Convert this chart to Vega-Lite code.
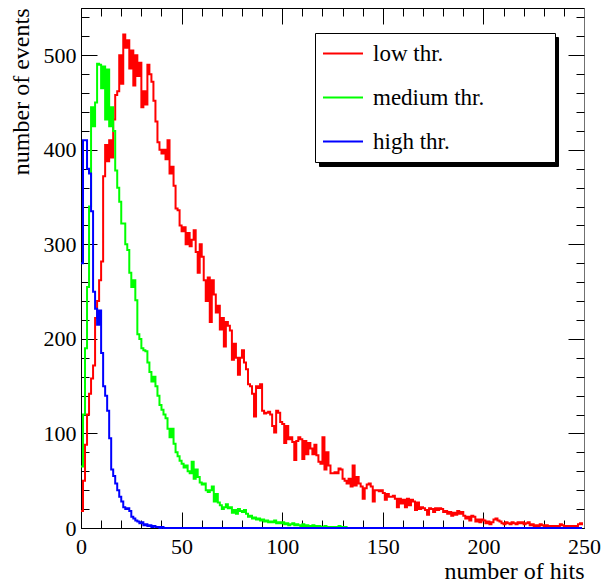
{
 "$schema": "https://vega.github.io/schema/vega-lite/v6.json",
 "width": 503,
 "height": 520,
 "autosize": {"type": "none"},
 "padding": {"left": 81, "top": 8, "right": 20, "bottom": 54},
 "background": "white",
 "config": {
  "view": {"stroke": null},
  "font": "Liberation Serif",
  "axis": {"domainColor": "black", "tickColor": "black", "labelColor": "black", "titleColor": "black", "labelFont": "Liberation Serif", "titleFont": "Liberation Serif", "labelFontSize": 22, "titleFontSize": 24, "titleFontWeight": "normal", "grid": false, "zindex": 0, "tickWidth": 1, "domainWidth": 1, "labelFlush": false, "labelOverlap": false}
 },
 "data": {"values": [
{"h":0,"low":18,"medium":65,"high":280},{"h":1,"low":50,"medium":120,"high":410},{"h":2,"low":88,"medium":190,"high":410},{"h":3,"low":120,"medium":255,"high":380},{"h":4,"low":142,"medium":340,"high":375},{"h":5,"low":158,"medium":445,"high":335},{"h":6,"low":172,"medium":425,"high":250},{"h":7,"low":222,"medium":450,"high":232},{"h":8,"low":240,"medium":491,"high":215},{"h":9,"low":262,"medium":490,"high":230},
{"h":10,"low":282,"medium":465,"high":185},{"h":11,"low":372,"medium":488,"high":150},{"h":12,"low":405,"medium":432,"high":140},{"h":13,"low":388,"medium":485,"high":124},{"h":14,"low":410,"medium":425,"high":95},{"h":15,"low":392,"medium":445,"high":62},{"h":16,"low":432,"medium":420,"high":55},{"h":17,"low":458,"medium":378,"high":47},{"h":18,"low":462,"medium":360,"high":40},{"h":19,"low":500,"medium":345,"high":33},
{"h":20,"low":470,"medium":322,"high":28},{"h":21,"low":522,"medium":322,"high":22},{"h":22,"low":508,"medium":300,"high":20},{"h":23,"low":516,"medium":294,"high":21},{"h":24,"low":486,"medium":270,"high":18},{"h":25,"low":505,"medium":255,"high":12},{"h":26,"low":468,"medium":262,"high":10},{"h":27,"low":500,"medium":241,"high":8},{"h":28,"low":478,"medium":205,"high":7},{"h":29,"low":492,"medium":200,"high":5},
{"h":30,"low":445,"medium":190,"high":6},{"h":31,"low":462,"medium":188,"high":3},{"h":32,"low":448,"medium":187,"high":4},{"h":33,"low":490,"medium":175,"high":2},{"h":34,"low":480,"medium":165,"high":3},{"h":35,"low":472,"medium":155,"high":1},{"h":36,"low":452,"medium":160,"high":2},{"h":37,"low":430,"medium":150,"high":1},{"h":38,"low":408,"medium":140,"high":1},{"h":39,"low":400,"medium":130,"high":0},
{"h":40,"low":396,"medium":125,"high":1},{"h":41,"low":400,"medium":120,"high":0},{"h":42,"low":390,"medium":116,"high":0},{"h":43,"low":410,"medium":105,"high":0},{"h":44,"low":375,"medium":96,"high":0},{"h":45,"low":382,"medium":105,"high":0},{"h":46,"low":362,"medium":89,"high":0},{"h":47,"low":338,"medium":80,"high":0},{"h":48,"low":336,"medium":76,"high":0},{"h":49,"low":320,"medium":71,"high":0},
{"h":50,"low":314,"medium":68,"high":0},{"h":51,"low":318,"medium":64,"high":0},{"h":52,"low":300,"medium":66,"high":0},{"h":53,"low":312,"medium":60,"high":0},{"h":54,"low":298,"medium":58,"high":0},{"h":55,"low":305,"medium":70,"high":0},{"h":56,"low":315,"medium":52,"high":0},{"h":57,"low":292,"medium":62,"high":0},{"h":58,"low":270,"medium":54,"high":0},{"h":59,"low":300,"medium":48,"high":0},
{"h":60,"low":287,"medium":46,"high":0},{"h":61,"low":262,"medium":47,"high":0},{"h":62,"low":240,"medium":40,"high":0},{"h":63,"low":265,"medium":38,"high":0},{"h":64,"low":218,"medium":40,"high":0},{"h":65,"low":262,"medium":44,"high":0},{"h":66,"low":247,"medium":28,"high":0},{"h":67,"low":228,"medium":36,"high":0},{"h":68,"low":235,"medium":27,"high":0},{"h":69,"low":210,"medium":24,"high":0},
{"h":70,"low":222,"medium":20,"high":0},{"h":71,"low":192,"medium":22,"high":0},{"h":72,"low":218,"medium":25,"high":0},{"h":73,"low":214,"medium":21,"high":0},{"h":74,"low":209,"medium":22,"high":0},{"h":75,"low":178,"medium":16,"high":0},{"h":76,"low":195,"medium":19,"high":0},{"h":77,"low":180,"medium":15,"high":0},{"h":78,"low":162,"medium":20,"high":0},{"h":79,"low":180,"medium":18,"high":0},
{"h":80,"low":188,"medium":17,"high":0},{"h":81,"low":175,"medium":19,"high":0},{"h":82,"low":168,"medium":15,"high":0},{"h":83,"low":152,"medium":12,"high":0},{"h":84,"low":150,"medium":13,"high":0},{"h":85,"low":142,"medium":10,"high":0},{"h":86,"low":118,"medium":11,"high":0},{"h":87,"low":150,"medium":9,"high":0},{"h":88,"low":148,"medium":10,"high":0},{"h":89,"low":152,"medium":8,"high":0},
{"h":90,"low":124,"medium":9,"high":0},{"h":91,"low":121,"medium":7,"high":0},{"h":92,"low":122,"medium":8,"high":0},{"h":93,"low":123,"medium":6,"high":0},{"h":94,"low":120,"medium":7,"high":0},{"h":95,"low":108,"medium":6,"high":0},{"h":96,"low":101,"medium":8,"high":0},{"h":97,"low":124,"medium":5,"high":0},{"h":98,"low":122,"medium":6,"high":0},{"h":99,"low":112,"medium":5,"high":0},
{"h":100,"low":110,"medium":6,"high":0},{"h":101,"low":90,"medium":4,"high":0},{"h":102,"low":108,"medium":5,"high":0},{"h":103,"low":94,"medium":3,"high":0},{"h":104,"low":96,"medium":4,"high":0},{"h":105,"low":91,"medium":5,"high":0},{"h":106,"low":72,"medium":3,"high":0},{"h":107,"low":92,"medium":4,"high":0},{"h":108,"low":96,"medium":3,"high":0},{"h":109,"low":94,"medium":2,"high":0},
{"h":110,"low":73,"medium":4,"high":0},{"h":111,"low":92,"medium":2,"high":0},{"h":112,"low":78,"medium":3,"high":0},{"h":113,"low":90,"medium":2,"high":0},{"h":114,"low":84,"medium":1,"high":0},{"h":115,"low":78,"medium":3,"high":0},{"h":116,"low":88,"medium":2,"high":0},{"h":117,"low":77,"medium":1,"high":0},{"h":118,"low":70,"medium":2,"high":0},{"h":119,"low":68,"medium":1,"high":0},
{"h":120,"low":96,"medium":1,"high":0},{"h":121,"low":62,"medium":2,"high":0},{"h":122,"low":80,"medium":1,"high":0},{"h":123,"low":66,"medium":0,"high":0},{"h":124,"low":58,"medium":1,"high":0},{"h":125,"low":58,"medium":1,"high":0},{"h":126,"low":59,"medium":0,"high":0},{"h":127,"low":58,"medium":1,"high":0},{"h":128,"low":63,"medium":2,"high":0},{"h":129,"low":62,"medium":1,"high":0},
{"h":130,"low":52,"medium":0,"high":0},{"h":131,"low":50,"medium":1,"high":0},{"h":132,"low":47,"medium":0,"high":0},{"h":133,"low":52,"medium":0,"high":0},{"h":134,"low":44,"medium":0,"high":0},{"h":135,"low":66,"medium":0,"high":0},{"h":136,"low":45,"medium":0,"high":0},{"h":137,"low":54,"medium":0,"high":0},{"h":138,"low":47,"medium":0,"high":0},{"h":139,"low":44,"medium":0,"high":0},
{"h":140,"low":31,"medium":0,"high":0},{"h":141,"low":42,"medium":0,"high":0},{"h":142,"low":46,"medium":0,"high":0},{"h":143,"low":47,"medium":0,"high":0},{"h":144,"low":44,"medium":0,"high":0},{"h":145,"low":28,"medium":0,"high":0},{"h":146,"low":40,"medium":0,"high":0},{"h":147,"low":40,"medium":0,"high":0},{"h":148,"low":39,"medium":0,"high":0},{"h":149,"low":40,"medium":0,"high":0},
{"h":150,"low":37,"medium":0,"high":0},{"h":151,"low":30,"medium":0,"high":0},{"h":152,"low":36,"medium":0,"high":0},{"h":153,"low":33,"medium":0,"high":0},{"h":154,"low":33,"medium":0,"high":0},{"h":155,"low":34,"medium":0,"high":0},{"h":156,"low":31,"medium":0,"high":0},{"h":157,"low":22,"medium":0,"high":0},{"h":158,"low":31,"medium":0,"high":0},{"h":159,"low":26,"medium":0,"high":0},
{"h":160,"low":30,"medium":0,"high":0},{"h":161,"low":22,"medium":0,"high":0},{"h":162,"low":31,"medium":0,"high":0},{"h":163,"low":24,"medium":0,"high":0},{"h":164,"low":30,"medium":0,"high":0},{"h":165,"low":28,"medium":0,"high":0},{"h":166,"low":19,"medium":0,"high":0},{"h":167,"low":27,"medium":0,"high":0},{"h":168,"low":20,"medium":0,"high":0},{"h":169,"low":22,"medium":0,"high":0},
{"h":170,"low":21,"medium":0,"high":0},{"h":171,"low":19,"medium":0,"high":0},{"h":172,"low":14,"medium":0,"high":0},{"h":173,"low":21,"medium":0,"high":0},{"h":174,"low":20,"medium":0,"high":0},{"h":175,"low":17,"medium":0,"high":0},{"h":176,"low":21,"medium":0,"high":0},{"h":177,"low":19,"medium":0,"high":0},{"h":178,"low":21,"medium":0,"high":0},{"h":179,"low":20,"medium":0,"high":0},
{"h":180,"low":17,"medium":0,"high":0},{"h":181,"low":18,"medium":0,"high":0},{"h":182,"low":15,"medium":0,"high":0},{"h":183,"low":17,"medium":0,"high":0},{"h":184,"low":13,"medium":0,"high":0},{"h":185,"low":16,"medium":0,"high":0},{"h":186,"low":14,"medium":0,"high":0},{"h":187,"low":18,"medium":0,"high":0},{"h":188,"low":15,"medium":0,"high":0},{"h":189,"low":17,"medium":0,"high":0},
{"h":190,"low":13,"medium":0,"high":0},{"h":191,"low":10,"medium":0,"high":0},{"h":192,"low":12,"medium":0,"high":0},{"h":193,"low":8,"medium":0,"high":0},{"h":194,"low":13,"medium":0,"high":0},{"h":195,"low":12,"medium":0,"high":0},{"h":196,"low":7,"medium":0,"high":0},{"h":197,"low":9,"medium":0,"high":0},{"h":198,"low":6,"medium":0,"high":0},{"h":199,"low":9,"medium":0,"high":0},
{"h":200,"low":8,"medium":0,"high":0},{"h":201,"low":5,"medium":0,"high":0},{"h":202,"low":7,"medium":0,"high":0},{"h":203,"low":4,"medium":0,"high":0},{"h":204,"low":6,"medium":0,"high":0},{"h":205,"low":9,"medium":0,"high":0},{"h":206,"low":10,"medium":0,"high":0},{"h":207,"low":8,"medium":0,"high":0},{"h":208,"low":7,"medium":0,"high":0},{"h":209,"low":5,"medium":0,"high":0},
{"h":210,"low":4,"medium":0,"high":0},{"h":211,"low":6,"medium":0,"high":0},{"h":212,"low":5,"medium":0,"high":0},{"h":213,"low":4,"medium":0,"high":0},{"h":214,"low":6,"medium":0,"high":0},{"h":215,"low":5,"medium":0,"high":0},{"h":216,"low":4,"medium":0,"high":0},{"h":217,"low":6,"medium":0,"high":0},{"h":218,"low":5,"medium":0,"high":0},{"h":219,"low":6,"medium":0,"high":0},
{"h":220,"low":4,"medium":0,"high":0},{"h":221,"low":5,"medium":0,"high":0},{"h":222,"low":6,"medium":0,"high":0},{"h":223,"low":3,"medium":0,"high":0},{"h":224,"low":4,"medium":0,"high":0},{"h":225,"low":2,"medium":0,"high":0},{"h":226,"low":3,"medium":0,"high":0},{"h":227,"low":2,"medium":0,"high":0},{"h":228,"low":4,"medium":0,"high":0},{"h":229,"low":3,"medium":0,"high":0},
{"h":230,"low":2,"medium":0,"high":0},{"h":231,"low":3,"medium":0,"high":0},{"h":232,"low":1,"medium":0,"high":0},{"h":233,"low":2,"medium":0,"high":0},{"h":234,"low":1,"medium":0,"high":0},{"h":235,"low":2,"medium":0,"high":0},{"h":236,"low":1,"medium":0,"high":0},{"h":237,"low":2,"medium":0,"high":0},{"h":238,"low":4,"medium":0,"high":0},{"h":239,"low":3,"medium":0,"high":0},
{"h":240,"low":2,"medium":0,"high":0},{"h":241,"low":1,"medium":0,"high":0},{"h":242,"low":2,"medium":0,"high":0},{"h":243,"low":1,"medium":0,"high":0},{"h":244,"low":2,"medium":0,"high":0},{"h":245,"low":1,"medium":0,"high":0},{"h":246,"low":2,"medium":0,"high":0},{"h":247,"low":4,"medium":0,"high":0},{"h":248,"low":5,"medium":0,"high":0},{"h":249,"low":3,"medium":0,"high":0}
 ]},
 "transform": [{"fold": ["low", "medium", "high"], "as": ["series", "n"]}],
 "resolve": {"axis": {"x": "independent", "y": "independent"}},
 "layer": [
  {
   "mark": {"type": "line", "interpolate": "step-after", "strokeWidth": 2},
   "encoding": {
    "x": {"field": "h", "type": "quantitative", "scale": {"domain": [0, 250], "nice": false, "zero": false},
     "axis": {"orient": "bottom", "values": [0, 50, 100, 150, 200, 250], "tickSize": -16, "labelPadding": 24, "title": "number of hits", "titleAnchor": "end", "titleAlign": "right", "titleBaseline": "alphabetic", "titleX": 503, "titleY": 50}},
    "y": {"field": "n", "type": "quantitative", "scale": {"domain": [0, 550], "nice": false},
     "axis": {"orient": "left", "values": [0, 100, 200, 300, 400, 500], "tickSize": -16, "labelPadding": 21, "title": "number of events", "titleAnchor": "end", "titleAlign": "right", "titleAngle": -90, "titleBaseline": "alphabetic", "titleX": -53, "titleY": 0}},
    "color": {"field": "series", "type": "nominal",
     "scale": {"domain": ["low", "medium", "high"], "range": ["#ff0000", "#00ff00", "#0000ff"]},
     "legend": {"orient": "none", "legendX": 234, "legendY": 25, "title": null, "fillColor": "white", "strokeColor": "black", "padding": 2, "symbolOffset": 5, "symbolType": "stroke", "symbolSize": 1600, "symbolStrokeWidth": 2, "labelFont": "Liberation Serif", "labelFontSize": 23, "labelColor": "black", "labelOffset": 9, "labelLimit": 400, "clipHeight": 37, "rowPadding": 7, "labelExpr": "datum.label + ' thr.\u2800\u2800\u2800\u2800'", "zindex": 2}}
   }
  },
  {
   "mark": {"type": "line", "opacity": 0},
   "encoding": {
    "x": {"field": "h", "type": "quantitative",
     "axis": {"orient": "bottom", "values": [0,10,20,30,40,50,60,70,80,90,100,110,120,130,140,150,160,170,180,190,200,210,220,230,240,250], "tickSize": -8, "labels": false, "domain": false, "title": null}},
    "y": {"field": "n", "type": "quantitative",
     "axis": {"orient": "left", "values": [0,20,40,60,80,100,120,140,160,180,200,220,240,260,280,300,320,340,360,380,400,420,440,460,480,500,520,540], "tickSize": -8, "labels": false, "domain": false, "title": null}},
    "strokeDash": {"field": "series", "type": "nominal",
     "legend": {"orient": "none", "legendX": 238, "legendY": 29, "title": null, "fillColor": "black", "strokeColor": "black", "padding": 2, "symbolOffset": 5, "symbolType": "stroke", "symbolSize": 1600, "symbolStrokeWidth": 2, "labelFontSize": 23, "labelOffset": 188, "labelLimit": 400, "clipHeight": 37, "rowPadding": 7, "labelExpr": "''", "zindex": 1}}
   }
  },
  {
   "mark": {"type": "point", "opacity": 0},
   "encoding": {
    "x": {"field": "h", "type": "quantitative",
     "axis": {"orient": "top", "values": [0, 50, 100, 150, 200, 250], "tickSize": -16, "labels": false, "domain": true, "title": null}},
    "y": {"field": "n", "type": "quantitative",
     "axis": {"orient": "right", "values": [0, 100, 200, 300, 400, 500], "tickSize": -16, "labels": false, "domain": true, "domainColor": "#707070", "title": null}}
   }
  },
  {
   "mark": {"type": "point", "opacity": 0},
   "encoding": {
    "x": {"field": "h", "type": "quantitative",
     "axis": {"orient": "top", "values": [0,10,20,30,40,50,60,70,80,90,100,110,120,130,140,150,160,170,180,190,200,210,220,230,240,250], "tickSize": -8, "labels": false, "domain": false, "title": null}},
    "y": {"field": "n", "type": "quantitative",
     "axis": {"orient": "right", "values": [0,20,40,60,80,100,120,140,160,180,200,220,240,260,280,300,320,340,360,380,400,420,440,460,480,500,520,540], "tickSize": -8, "labels": false, "domain": false, "title": null}}
   }
  }
 ]
}
